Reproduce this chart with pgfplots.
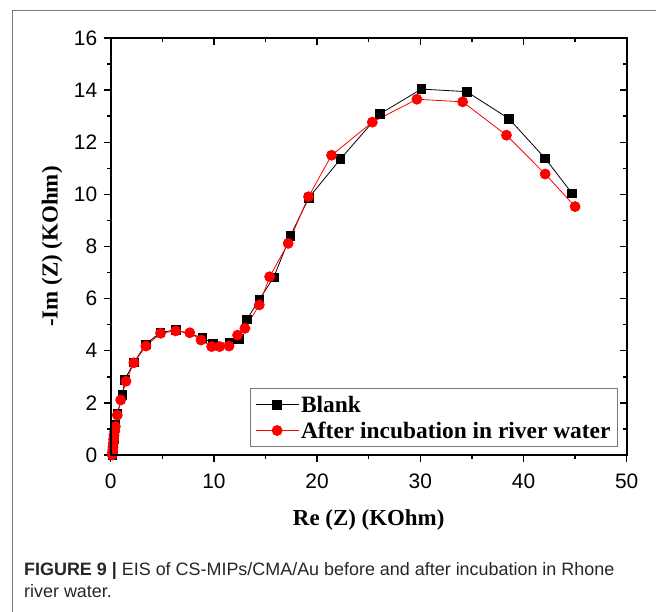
\documentclass[border=0pt]{standalone}
\usepackage{fontspec}
\setmainfont{Liberation Serif}
\newfontfamily\arial{Liberation Sans}
\usepackage{pgfplots}
\pgfplotsset{compat=1.18}
\definecolor{myred}{RGB}{255,0,0}
\definecolor{framegray}{RGB}{120,120,120}
\begin{document}
\begin{tikzpicture}[x=1bp,y=1bp]
\useasboundingbox (0,0) rectangle (656,612);
\draw[framegray, line width=1bp] (12.5,0) -- (12.5,601) -- (656,601);
\begin{axis}[
  at={(110.7bp,157bp)}, anchor=south west,
  width=516bp, height=417bp, scale only axis,
  xmin=0, xmax=50, ymin=0, ymax=16,
  xtick={0,10,...,50}, ytick={0,2,...,16},
  minor xtick={5,15,...,45}, minor ytick={1,3,...,15},
  tick align=outside, tick pos=left,
  major tick length=7bp, minor tick length=4bp,
  axis line style={line width=1.6bp},
  every tick/.style={black, line width=1.4bp},
  ticklabel style={font=\arial\fontsize{21}{21}\selectfont},
  xticklabel style={yshift=-8bp},
  yticklabel style={xshift=-3bp},
  /pgf/number format/assume math mode=true,
  xlabel={\bfseries Re (Z) (KOhm)}, ylabel={\bfseries -Im (Z) (KOhm)},
  label style={font=\fontsize{23}{23}\selectfont},
  xlabel style={at={(axis description cs:0.5,0)}, anchor=center, yshift=-65bp},
  ylabel style={at={(axis description cs:0,0.5)}, anchor=center, yshift=58.7bp},
  legend style={at={(1,0)}, anchor=south east, xshift=-8.7bp, yshift=8bp,
    font=\bfseries\fontsize{23.5}{23.5}\selectfont, draw=framegray, line width=1bp,
    inner sep=5bp, row sep=4bp},
  legend cell align=left,
  legend image code/.code={\draw[mark repeat=2,mark phase=2] plot coordinates {(0bp,0bp) (21.5bp,0bp) (43bp,0bp)};},
]
\addplot[black, line width=0.8bp, mark=square*, mark size=4.3bp, mark options={solid}] coordinates {
(0.15,0) (0.2,0.2) (0.25,0.4) (0.3,0.6) (0.35,0.8) (0.45,1.15) (0.64,1.6) (1.15,2.3) (1.35,2.88)
(2.25,3.55) (3.4,4.25) (4.8,4.7) (6.3,4.8) (8.9,4.5) (9.9,4.28) (11.5,4.3) (12.4,4.46)
(13.2,5.2) (14.4,5.97) (15.8,6.82) (17.4,8.4) (19.2,9.87) (22.27,11.36) (26.06,13.08)
(30.1,14.04) (34.5,13.94) (38.6,12.9) (42.1,11.38) (44.7,10.04)
};
\addlegendentry{Blank}
\addplot[myred, line width=0.8bp, mark=*, mark size=5bp, mark options={solid}] coordinates {
(0.15,0) (0.18,0.1) (0.2,0.2) (0.22,0.3) (0.25,0.45) (0.28,0.6) (0.32,0.75) (0.38,0.9) (0.45,1.09)
(0.64,1.53) (0.97,2.11) (1.48,2.83) (2.25,3.54) (3.41,4.18) (4.83,4.67) (6.3,4.76) (7.66,4.69)
(8.75,4.41) (9.78,4.16) (10.55,4.16) (11.46,4.18) (12.29,4.6) (13.0,4.86) (14.4,5.76)
(15.4,6.84) (17.2,8.12) (19.17,9.91) (21.4,11.5) (25.35,12.77) (29.67,13.65) (34.1,13.55)
(38.35,12.27) (42.1,10.78) (45.0,9.53)
};
\addlegendentry{After incubation in river water}
\end{axis}
\begin{axis}[
  at={(110.7bp,157bp)}, anchor=south west,
  width=516bp, height=417bp, scale only axis,
  xmin=0, xmax=50, ymin=0, ymax=16,
  xtick={0,10,...,50}, ytick={0,2,...,16},
  minor xtick={5,15,...,45}, minor ytick={1,3,...,15},
  tick align=inside, tick pos=right,
  major tick length=7bp, minor tick length=4bp,
  axis line style={line width=1.6bp},
  every tick/.style={black, line width=1.4bp},
  xticklabels={}, yticklabels={},
]
\end{axis}
\node[anchor=base west, inner sep=0pt, font=\arial\fontsize{18}{23}\selectfont, color=black!85, align=left] at (24,14)
  {{\bfseries FIGURE 9 |} EIS of CS-MIPs/CMA/Au before and after incubation in Rhone\\river water.};
\end{tikzpicture}
\end{document}
